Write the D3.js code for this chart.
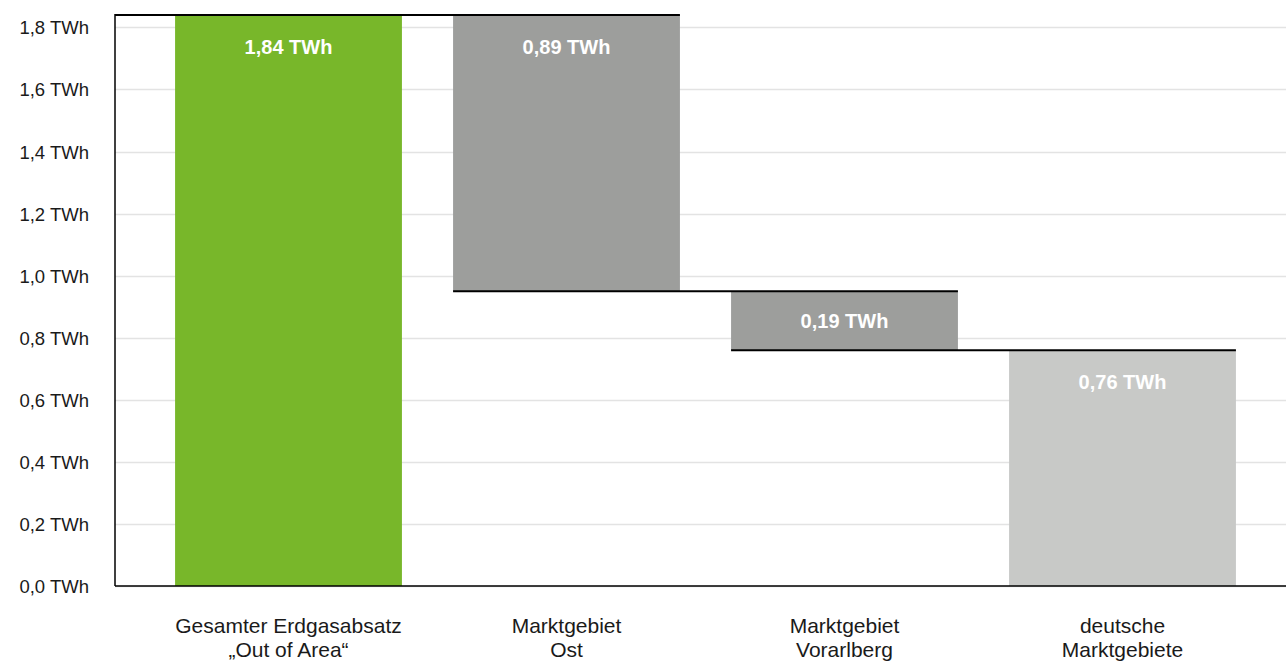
<!DOCTYPE html>
<html>
<head>
<meta charset="utf-8">
<script src="https://cdn.jsdelivr.net/npm/d3@7"></script>
<style>
  body { margin: 0; background: #fff; }
  svg { font-family: "Liberation Sans", Arial, sans-serif; }
</style>
</head>
<body>
<div id="chart"></div>
<script>
// data
const categories = [["Gesamter Erdgasabsatz", "\u201EOut of Area\u201C"], ["Marktgebiet", "Ost"], ["Marktgebiet", "Vorarlberg"], ["deutsche", "Marktgebiete"]]
const values = [1.84, 0.89, 0.19, 0.76]
const kinds = ["total", "minus", "minus", "total"]
const colors = ["#78b72a", "#9d9e9c", "#9d9e9c", "#c8c9c7"]
const tickValues = [0, 0.2, 0.4, 0.6, 0.8, 1.0, 1.2, 1.4, 1.6, 1.8]

const W = 1286, H = 664
const plotLeft = 115, plotTop = 15, plotBottom = 586

const svg = d3.select('#chart').append('svg')
  .attr('width', W).attr('height', H)

// waterfall start/end
let running = 0
const bars = values.map((v, i) => {
  let lo, hi
  if (kinds[i] === 'total') { lo = 0; hi = v; running = v }
  else { hi = running; lo = running - v; running = lo }
  return {i, lo, hi, v}
})

const x = d3.scaleBand()
  .domain(d3.range(categories.length))
  .range([149.5, 1261.5])
  .paddingInner(0.184)
  .paddingOuter(0.092)

const y = d3.scaleLinear()
  .domain([0, 1.84])
  .range([plotBottom, plotTop])

// grid
svg.append('g')
  .selectAll('line')
  .data(tickValues)
  .enter().append('line')
  .attr('x1', plotLeft).attr('x2', W)
  .attr('y1', d => Math.round(y(d)) + 0.5).attr('y2', d => Math.round(y(d)) + 0.5)
  .attr('stroke', '#e3e3e3').attr('stroke-width', 1.5)

// y tick labels
svg.append('g')
  .selectAll('text')
  .data(tickValues)
  .enter().append('text')
  .attr('x', 89)
  .attr('y', d => y(d) + 7)
  .attr('text-anchor', 'end')
  .attr('font-size', 18.5)
  .attr('fill', '#1a1a1a')
  .text(d => d3.format('.1f')(d).replace('.', ',') + ' TWh')

// bars
svg.append('g')
  .selectAll('rect')
  .data(bars)
  .enter().append('rect')
  .attr('x', d => x(d.i))
  .attr('width', x.bandwidth())
  .attr('y', d => y(d.hi))
  .attr('height', d => y(d.lo) - y(d.hi))
  .attr('fill', d => colors[d.i])

// connectors
const conn = bars.slice(1).map((d, k) => ({
  x1: k === 0 ? plotLeft : x(k),
  x2: x(k + 1) + x.bandwidth(),
  yv: bars[k].lo === 0 ? bars[k].hi : bars[k].lo
}))
svg.append('g')
  .selectAll('line')
  .data(conn)
  .enter().append('line')
  .attr('x1', d => d.x1).attr('x2', d => d.x2)
  .attr('y1', d => y(d.yv)).attr('y2', d => y(d.yv))
  .attr('stroke', '#000').attr('stroke-width', 2)

// axes lines
svg.append('line')
  .attr('x1', plotLeft).attr('x2', plotLeft).attr('y1', plotTop - 1).attr('y2', plotBottom)
  .attr('stroke', '#000').attr('stroke-width', 1.5)
svg.append('line')
  .attr('x1', plotLeft).attr('x2', W).attr('y1', plotBottom).attr('y2', plotBottom)
  .attr('stroke', '#000').attr('stroke-width', 1.5)

// value labels
svg.append('g')
  .selectAll('text')
  .data(bars)
  .enter().append('text')
  .attr('x', d => x(d.i) + x.bandwidth() / 2)
  .attr('y', d => Math.min(y(d.hi) + 39, (y(d.hi) + y(d.lo)) / 2 + 7))
  .attr('text-anchor', 'middle')
  .attr('font-size', 20)
  .attr('font-weight', 'bold')
  .attr('fill', '#fff')
  .text(d => d3.format('.2f')(d.v).replace('.', ',') + ' TWh')

// category labels
const cat = svg.append('g')
  .selectAll('text')
  .data(categories)
  .enter().append('text')
  .attr('text-anchor', 'middle')
  .attr('font-size', 21)
  .attr('fill', '#1a1a1a')
cat.selectAll('tspan')
  .data((d, i) => d.map(s => ({s, i})))
  .enter().append('tspan')
  .attr('x', d => x(d.i) + x.bandwidth() / 2)
  .attr('y', (d, j) => 633 + j * 24)
  .text(d => d.s)
</script>
</body>
</html>
